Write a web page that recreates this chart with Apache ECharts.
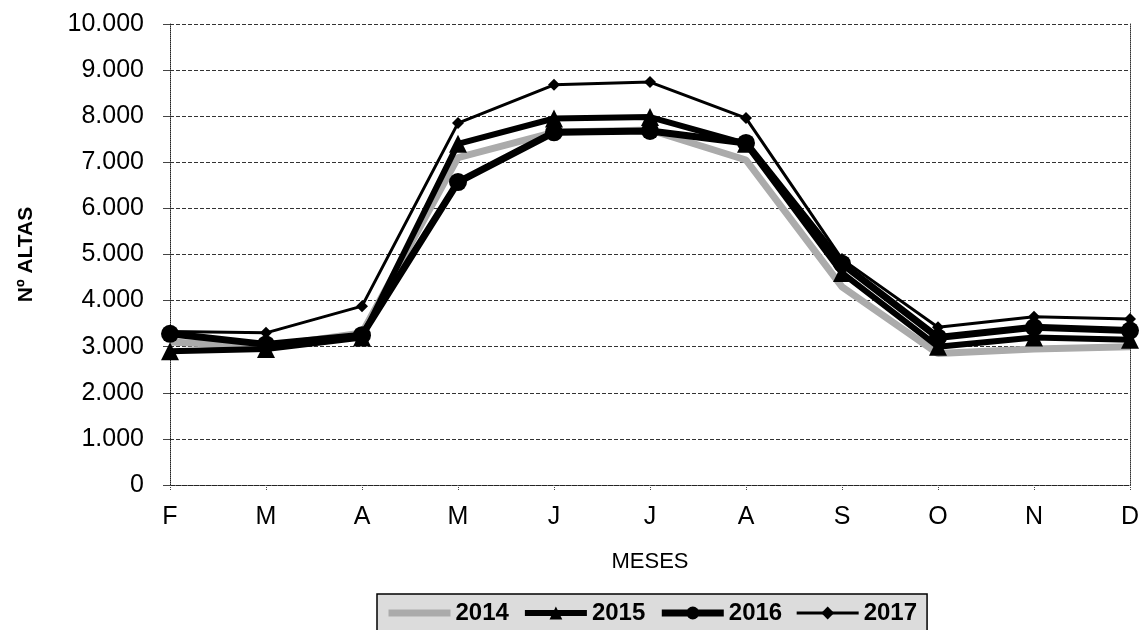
<!DOCTYPE html>
<html><head><meta charset="utf-8">
<script src="https://cdn.jsdelivr.net/npm/echarts@6/dist/echarts.min.js"></script>
<style>html,body{margin:0;padding:0;background:#fff}#c{width:1144px;height:630px}</style>
</head><body><div id="c"></div>
<script>
const months = ['F','M','A','M','J','J','A','S','O','N','D'];
const s2014 = [3100, 3000, 3300, 7100, 7650, 7700, 7050, 4300, 2850, 2950, 3000];
const s2015 = [2900, 2950, 3200, 7400, 7950, 7980, 7400, 4600, 3000, 3200, 3150];
const s2016 = [3280, 3050, 3250, 6570, 7650, 7680, 7420, 4800, 3200, 3420, 3350];
const s2017 = [3330, 3300, 3880, 7850, 8680, 8740, 7960, 4900, 3420, 3650, 3600];
const yTicks = [0,1000,2000,3000,4000,5000,6000,7000,8000,9000,10000];

const font = 'Liberation Sans, Arial, sans-serif';
const chart = echarts.init(document.getElementById('c'));
function fmt(v){ return v >= 1000 ? Math.floor(v/1000) + '.' + String(v%1000).padStart(3,'0') : String(v); }
chart.setOption({
  animation:false,
  backgroundColor:'#fff',
  grid:{left:170,right:14,top:24,bottom:145},
  xAxis:{type:'category',data:months,boundaryGap:false,
    axisLine:{show:true,lineStyle:{color:'#222',type:'dotted',width:1}},
    axisTick:{show:true,length:6,lineStyle:{color:'#444',type:'dotted'}},
    axisLabel:{color:'#000',fontSize:25,fontFamily:font,margin:20},
    name:'MESES',nameLocation:'middle',nameGap:66,
    nameTextStyle:{color:'#000',fontSize:22,fontFamily:font},
    splitLine:{show:false}},
  yAxis:[{type:'value',min:yTicks[0],max:yTicks[yTicks.length-1],interval:1000,
    axisLine:{show:true,lineStyle:{color:'#222',type:'dotted'}},
    axisTick:{show:true,length:7,lineStyle:{color:'#444'}},
    axisLabel:{color:'#000',fontSize:25,fontFamily:font,margin:26,formatter:fmt},
    splitLine:{show:true,lineStyle:{color:'#333',type:[4,2],width:1}},
    name:'Nº ALTAS',nameLocation:'middle',nameGap:133,nameRotate:90,
    nameTextStyle:{color:'#000',fontSize:21,fontFamily:font,fontWeight:'bold'}},
   {type:'value',position:'right',min:yTicks[0],max:yTicks[yTicks.length-1],interval:1000,
    axisLine:{show:true,lineStyle:{color:'#333',type:'dotted'}},
    axisTick:{show:false},axisLabel:{show:false},splitLine:{show:false}}],
  legend:{top:594,left:377,
    backgroundColor:'#dcdcdc',borderColor:'#000',borderWidth:1.5,
    padding:[7,10,10,8],itemGap:13,itemWidth:62,itemHeight:16,
    textStyle:{color:'#000',fontSize:24,fontFamily:font,fontWeight:'bold'},
    data:[
      {name:'2014',itemStyle:{color:'rgba(0,0,0,0)',borderWidth:0},lineStyle:{width:7,color:'#ababab'}},
      {name:'2015',lineStyle:{width:6,color:'#000'}},
      {name:'2016',lineStyle:{width:7,color:'#000'}},
      {name:'2017',lineStyle:{width:3,color:'#000'}}
    ]},
  series:[
    {name:'2014',type:'line',data:s2014,symbol:'none',z:1,
      lineStyle:{color:'#ababab',width:7},itemStyle:{color:'#ababab'}},
    {name:'2015',type:'line',data:s2015,symbol:'triangle',symbolSize:18,z:3,
      lineStyle:{color:'#000',width:6},itemStyle:{color:'#000'}},
    {name:'2016',type:'line',data:s2016,symbol:'circle',symbolSize:18,z:2,
      lineStyle:{color:'#000',width:7},itemStyle:{color:'#000'}},
    {name:'2017',type:'line',data:s2017,symbol:'diamond',symbolSize:12,z:4,
      lineStyle:{color:'#000',width:3},itemStyle:{color:'#000'}}
  ]
});
</script></body></html>
